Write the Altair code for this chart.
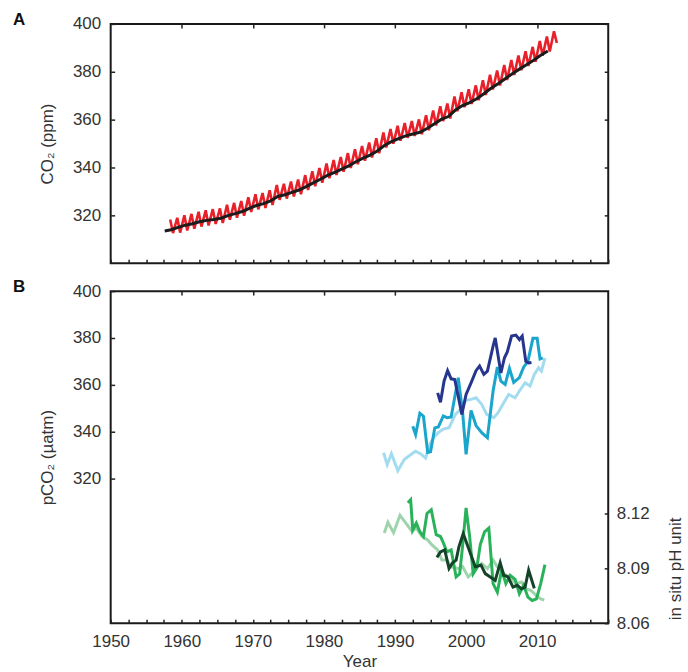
import altair as alt
import pandas as pd

FONT = "Liberation Sans"

# ---------------- Panel A data (CO2, ppm) ----------------
red_years = list(range(1958, 2013))
red_peak = [318.3, 319.0, 320.0, 320.6, 321.5, 322.1, 322.6, 322.9, 324.4, 325.2,
            326.0, 327.6, 328.8, 329.3, 330.5, 332.7, 333.2, 334.1, 335.0, 336.8,
            338.4, 339.8, 341.7, 343.1, 344.4, 346.0, 347.6, 349.0, 350.4, 352.2,
            354.6, 356.1, 357.4, 358.6, 359.4, 360.1, 361.8, 363.8, 365.6, 366.7,
            369.7, 371.4, 372.7, 374.3, 376.5, 378.8, 380.5, 382.8, 384.9, 386.8,
            388.6, 390.4, 392.9, 394.7, 396.9]
red_trough = [312.6, 312.8, 313.7, 314.4, 315.3, 315.8, 316.4, 316.8, 318.2, 319.0,
              319.8, 321.4, 322.5, 323.1, 324.3, 326.5, 327.0, 327.9, 328.8, 330.6,
              332.2, 333.6, 335.5, 336.9, 338.2, 339.8, 341.4, 342.8, 344.2, 346.0,
              348.4, 349.9, 351.2, 352.4, 353.2, 353.9, 355.6, 357.6, 359.4, 360.5,
              363.5, 365.2, 366.5, 368.1, 370.3, 372.6, 374.3, 376.6, 378.7, 380.6,
              382.4, 384.2, 386.7, 388.5, 392.0]

black_years = [1957.6, 1958.5, 1959.5, 1960.5, 1961.5, 1962.5, 1963.5, 1964.5, 1965.5,
               1966.5, 1967.5, 1968.5, 1969.5, 1970.5, 1971.5, 1972.5, 1973.5, 1974.5,
               1975.5, 1976.5, 1977.5, 1978.5, 1979.5, 1980.5, 1981.5, 1982.5, 1983.5,
               1984.5, 1985.5, 1986.5, 1987.5, 1988.5, 1989.5, 1990.5, 1991.5, 1992.5,
               1993.5, 1994.5, 1995.5, 1996.5, 1997.5, 1998.5, 1999.5, 2000.5, 2001.5,
               2002.5, 2003.5, 2004.5, 2005.5, 2006.5, 2007.5, 2008.5, 2009.5, 2010.5,
               2011.5]
black_vals = [313.5, 314.0, 315.0, 315.9, 316.5, 317.3, 317.9, 318.3, 318.8, 319.9,
              320.7, 321.6, 322.9, 324.1, 324.9, 326.0, 327.9, 328.6, 329.6, 330.6,
              332.0, 333.6, 335.1, 336.7, 338.0, 339.3, 340.7, 342.4, 343.9, 345.2,
              346.9, 349.2, 350.8, 352.1, 353.2, 354.0, 354.7, 356.3, 358.2, 360.1,
              361.3, 364.0, 365.9, 367.1, 368.7, 370.8, 373.1, 375.0, 377.1, 379.2,
              381.1, 382.9, 384.8, 386.9, 388.7]

# ---------------- Panel B data: pCO2 (uatm) ----------------
lb_years = [1988.4, 1988.9, 1989.5, 1990.4, 1991.3, 1992.1, 1992.9, 1993.6, 1994.3,
            1994.9, 1995.5, 1996.1, 1996.8, 1997.6, 1998.5, 1999.2, 2000.0, 2000.7,
            2001.4, 2002.2, 2002.9, 2003.9, 2004.5, 2005.3, 2006.0, 2006.9, 2007.5,
            2008.3, 2009.0, 2009.6, 2010.2, 2010.6, 2011.1]
lb_vals = [330.9, 325.8, 330.5, 323.2, 328.0, 329.8, 331.5, 330.5, 328.6,
           334.5, 337.6, 339.5, 341.0, 341.6, 347.3, 349.4, 353.3, 353.7,
           354.4, 351.6, 347.3, 345.9, 348.0, 352.3, 355.8, 354.4, 357.3,
           360.8, 359.4, 364.4, 367.2, 365.8, 371.4]

cy_years = [1992.5, 1992.9, 1993.5, 1994.0, 1994.6, 1995.0, 1995.6, 1996.1, 1996.8,
            1997.3, 1997.9, 1998.9, 1999.5, 2000.0, 2000.7, 2001.4, 2002.2, 2003.0,
            2003.8, 2004.4, 2004.9, 2005.5, 2006.1, 2006.7, 2007.5, 2008.1, 2008.7,
            2009.4, 2010.0, 2010.4, 2010.8]
cy_vals = [342.2, 338.7, 347.8, 346.5, 331.0, 331.3, 341.5, 341.9, 346.6,
           345.9, 346.2, 363.0, 348.7, 330.2, 349.0, 342.5, 339.5, 337.3,
           357.3, 367.5, 361.5, 360.1, 367.0, 361.0, 363.0, 367.5, 370.0,
           379.8, 379.8, 371.0, 371.5]

nv_years = [1996.0, 1996.4, 1996.9, 1997.4, 1997.9, 1998.4, 1998.9, 1999.4, 2000.0,
            2000.7, 2001.4, 2001.9, 2002.5, 2003.0, 2003.8, 2004.1, 2004.9, 2005.4,
            2005.8, 2006.4, 2007.0, 2007.5, 2007.9, 2008.4, 2008.8, 2009.2]
nv_vals = [356.5, 352.5, 361.5, 366.0, 362.5, 362.2, 355.0, 347.3, 355.8,
           360.8, 366.0, 368.0, 364.4, 365.8, 376.5, 380.0, 365.0, 371.5,
           374.0, 380.8, 381.2, 379.3, 380.8, 370.0, 369.3, 369.5]

# ---------------- Panel B data: in situ pH ----------------
lg_years = [1988.5, 1989.0, 1989.8, 1990.7, 1991.5, 1992.4, 1993.0, 1993.8, 1994.6,
            1995.2, 1996.0, 1996.6, 1997.3, 1997.9, 1998.9, 1999.5, 2000.3, 2000.9,
            2001.6, 2002.2, 2003.0, 2003.8, 2004.4, 2005.0, 2005.6, 2006.2, 2007.0,
            2007.8, 2008.4, 2009.1, 2009.9, 2010.5, 2011.0]
lg_vals = [8.1093, 8.1152, 8.1095, 8.1190, 8.1148, 8.1102, 8.1121, 8.1074, 8.1055,
           8.1028, 8.1001, 8.0945, 8.0945, 8.0908, 8.0899, 8.0910, 8.0853, 8.0875,
           8.0908, 8.0927, 8.0899, 8.0945, 8.0908, 8.0885, 8.0862, 8.0853, 8.0816,
           8.0825, 8.0788, 8.0779, 8.0751, 8.0733, 8.0727]

mg_years = [1991.8, 1992.2, 1992.5, 1993.0, 1993.5, 1994.0, 1994.5, 1995.1, 1995.8,
            1996.4, 1996.8, 1997.3, 1997.9, 1998.6, 1999.1, 1999.5, 2000.0, 2000.5,
            2001.0, 2001.5, 2002.0, 2002.6, 2003.2, 2003.8, 2004.4, 2005.0, 2005.6,
            2006.2, 2006.9, 2007.5, 2008.1, 2008.7, 2009.3, 2009.9, 2010.5, 2011.1]
mg_vals = [8.1259, 8.1275, 8.1110, 8.1148, 8.1100, 8.1074, 8.1200, 8.1220, 8.1084,
           8.1074, 8.1040, 8.0990, 8.1001, 8.0853, 8.0870, 8.1019, 8.1230, 8.1074,
           8.0870, 8.0900, 8.1030, 8.1100, 8.1120, 8.0816, 8.0770, 8.0890, 8.0816,
           8.0862, 8.0840, 8.0761, 8.0807, 8.0742, 8.0724, 8.0733, 8.0816, 8.0920]

dg_years = [1995.9, 1996.4, 1997.0, 1997.6, 1998.1, 1998.6, 1999.0, 1999.6, 2000.0,
            2000.6, 2001.3, 2002.1, 2002.7, 2003.4, 2004.1, 2004.8, 2005.3, 2005.9,
            2006.6, 2007.2, 2007.8, 2008.3, 2008.8, 2009.2, 2009.6]
dg_vals = [8.0960, 8.0990, 8.1001, 8.0899, 8.0930, 8.0945, 8.1019, 8.1090, 8.1047,
           8.0982, 8.0908, 8.0918, 8.0871, 8.0853, 8.0834, 8.0930, 8.0862, 8.0853,
           8.0797, 8.0807, 8.0788, 8.0797, 8.0890, 8.0840, 8.0790]

# ---------------- ticks ----------------
year_ticks = [1950, 1952.5, 1955, 1957.5, 1960, 1962.5, 1965, 1967.5, 1970, 1972.5,
              1975, 1977.5, 1980, 1982.5, 1985, 1987.5, 1990, 1992.5, 1995, 1997.5,
              2000, 2002.5, 2005, 2007.5, 2010, 2012.5, 2015, 2017.5, 2020]
decade_ticks = [1960, 1970, 1980, 1990, 2000, 2010]
co2_ticks = [320, 340, 360, 380, 400]
ph_ticks = [8.06, 8.09, 8.12]

# ---------------- tables ----------------
red_rows = []
for y, p, t in zip(red_years, red_peak, red_trough):
    red_rows.append({"year": y + 0.37, "co2": p})
    red_rows.append({"year": y + 0.77, "co2": t})
red_df = pd.DataFrame(red_rows)
black_df = pd.DataFrame({"year": black_years, "co2": black_vals})


def long(series_list):
    rows = []
    for name, xs, vs in series_list:
        for x, v in zip(xs, vs):
            rows.append({"series": name, "year": x, "val": v})
    return pd.DataFrame(rows)


blue_df = long([("lb", lb_years, lb_vals), ("cy", cy_years, cy_vals), ("nv", nv_years, nv_vals)])
green_df = long([("lg", lg_years, lg_vals), ("mg", mg_years, mg_vals), ("dg", dg_years, dg_vals)])

color_scale = alt.Scale(domain=["lb", "cy", "nv", "lg", "mg", "dg"],
                        range=["#a3dcef", "#1aa5cd", "#26368f", "#9dd4ab", "#29b25a", "#15432a"])

W = 499
HA = 240
HB = 333
TK = 4
TICKC = "#222222"
LABC = "#333333"

xscale = alt.Scale(domain=[1950, 2020], nice=False, zero=False)
yA = alt.Scale(domain=[300, 400], nice=False, zero=False)
yB = alt.Scale(domain=[258, 400], nice=False, zero=False)
yPH = alt.Scale(domain=[8.06, 8.2416], nice=False, zero=False)


def tick_axis(orient, values, **kw):
    base = dict(orient=orient, values=values, tickSize=TK, offset=-TK, domain=False,
                grid=False, tickColor=TICKC, tickWidth=1.5, labelFlush=False,
                labelOverlap=False, labelColor=LABC, labelFontSize=17, labelFont=FONT,
                titleFont=FONT, titleColor=LABC, titleFontWeight="normal", titleFontSize=17)
    base.update(kw)
    return alt.Axis(**base)


# ---------------- Panel A ----------------
redA = alt.Chart(red_df).mark_line(color="#e8202a", strokeWidth=2.6).encode(
    x=alt.X("year:Q", scale=xscale, axis=tick_axis("bottom", year_ticks, labels=False, title=None)),
    y=alt.Y("co2:Q", scale=yA, axis=tick_axis("left", co2_ticks, labelPadding=10,
                                                title="CO₂ (ppm)", titlePadding=16)),
)
blackA = alt.Chart(black_df).mark_line(color="#1c1c1c", strokeWidth=3).encode(
    x=alt.X("year:Q", scale=xscale, axis=tick_axis("top", decade_ticks, labels=False, title=None)),
    y=alt.Y("co2:Q", scale=yA, axis=tick_axis("right", co2_ticks, labels=False, title=None)),
)
panelA = alt.layer(redA, blackA).resolve_axis(x="independent", y="independent").properties(
    width=W, height=HA,
    title=alt.TitleParams("A", anchor="start", frame="group", dx=-98, dy=14, fontSize=17,
                          fontWeight="bold", font=FONT, color="#111111", offset=0),
)

# ---------------- Panel B ----------------
blueB = alt.Chart(blue_df).mark_line(strokeWidth=3).encode(
    x=alt.X("year:Q", scale=xscale,
            axis=tick_axis("bottom", year_ticks, format="d", labelPadding=10,
                           labelExpr="datum.value % 10 === 0 && datum.value < 2020 ? datum.label : ''",
                           title="Year", titlePadding=4)),
    y=alt.Y("val:Q", scale=yB, axis=tick_axis("left", co2_ticks, labelPadding=10,
                                               title="pCO₂ (µatm)", titlePadding=16)),
    color=alt.Color("series:N", scale=color_scale, legend=None),
)
greenB = alt.Chart(green_df).mark_line(strokeWidth=3).encode(
    x=alt.X("year:Q", scale=xscale, axis=tick_axis("top", decade_ticks, labels=False, title=None)),
    y=alt.Y("val:Q", scale=yPH, axis=tick_axis("right", ph_ticks, format=".2f", labelPadding=8,
                                                title="in situ pH unit", titleAngle=270,
                                                titleX=71, titleY=278, titleAlign="center",
                                                titleBaseline="middle")),
    color=alt.Color("series:N", scale=color_scale, legend=None),
)
panelB = alt.layer(blueB, greenB).resolve_scale(y="independent").resolve_axis(
    x="independent", y="independent").properties(
    width=W, height=HB,
    title=alt.TitleParams("B", anchor="start", frame="group", dx=-98, dy=14, fontSize=17,
                          fontWeight="bold", font=FONT, color="#111111", offset=0),
)

chart = alt.vconcat(panelA, panelB, spacing=12).properties(
    padding={"left": 12, "top": 9, "right": 4, "bottom": 4}
).configure_view(stroke="#1a1a1a", strokeWidth=2)

chart.save("out.html", embed_options={"renderer": "svg", "actions": False})
